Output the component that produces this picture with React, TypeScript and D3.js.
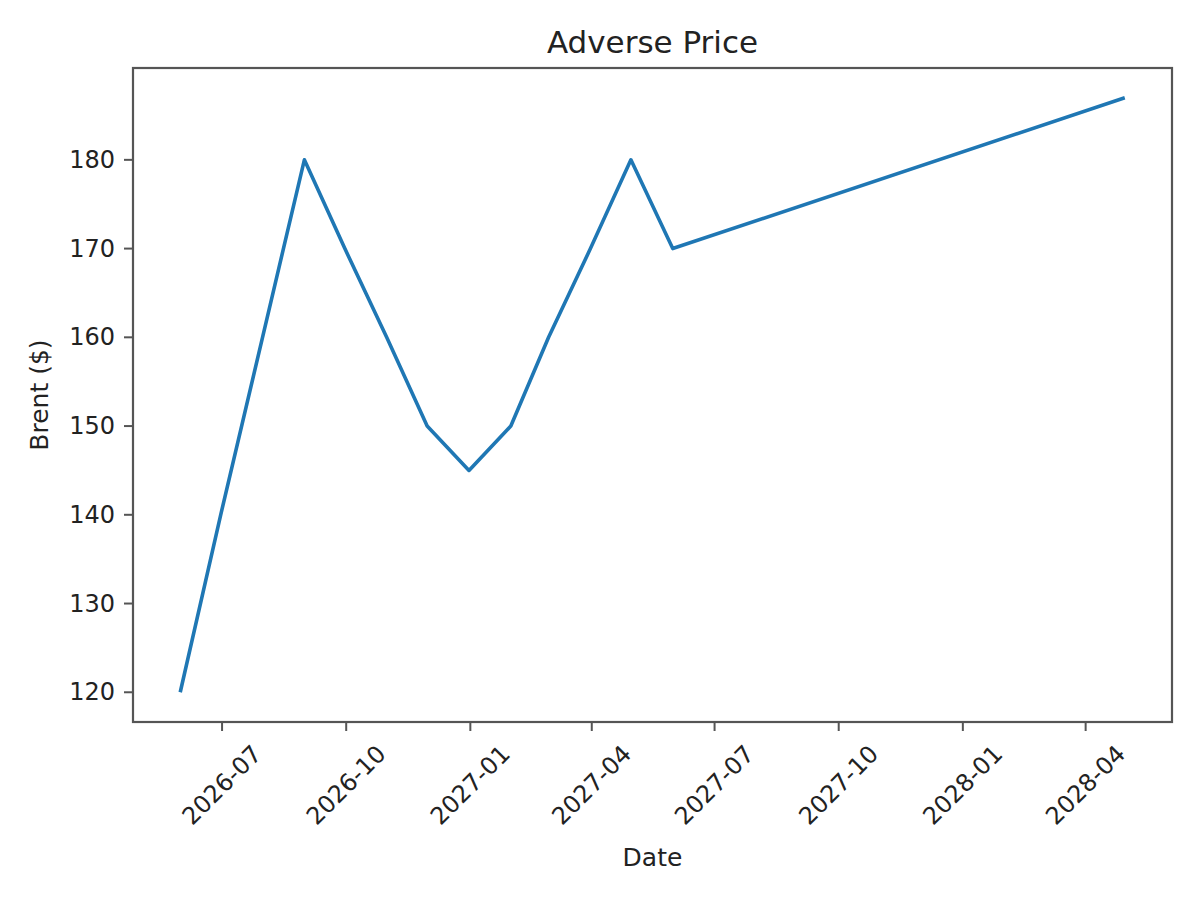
import * as React from 'react';
import { scaleLinear, scaleUtc, line, utcParse, utcFormat, utcMonth, utcDay } from 'd3';

// month-end observations
const dates = [
    '2026-05-31', '2026-06-30', '2026-07-31', '2026-08-31', '2026-09-30',
    '2026-10-31', '2026-11-30', '2026-12-31', '2027-01-31', '2027-02-28',
    '2027-03-31', '2027-04-30', '2027-05-31', '2028-04-30'
];
const brent = [120, 140, 160, 180, 170, 160, 150, 145, 150, 160, 170, 180, 170, 187];
const yTicks = [120, 130, 140, 150, 160, 170, 180];

const parse = utcParse('%Y-%m-%d');
const fmt = utcFormat('%Y-%m');
const points = dates.map((d, i) => ({ date: parse(d)!, value: brent[i] }));

const W = 1200;
const H = 900;
const box = { left: 133, right: 1172, top: 68, bottom: 722 };
const font = 'DejaVu Sans, sans-serif';

// matplotlib-style 5% padding around the data range
const t0 = points[0].date;
const t1 = points[points.length - 1].date;
const padT = (t1.getTime() - t0.getTime()) * 0.05;
const vMin = Math.min(...brent);
const vMax = Math.max(...brent);
const padV = (vMax - vMin) * 0.05;

const xScale = scaleUtc()
    .domain([new Date(t0.getTime() - padT), new Date(t1.getTime() + padT)])
    .range([box.left, box.right]);

const yScale = scaleLinear()
    .domain([vMin - padV, vMax + padV])
    .range([box.bottom, box.top]);

const xTicks = utcMonth.every(3)!.range(utcDay.offset(xScale.domain()[0], 0), xScale.domain()[1]);

const path = line<{ date: Date; value: number }>()
    .x(d => xScale(d.date))
    .y(d => yScale(d.value))(points)!;

const tickLen = 9;
const pad = 9;
const tickFont = 24;
// centre of the rotated label's bounding box below the axis
const labelW = 100;
const labelH = 28;
const rotBox = (labelW + labelH) * Math.SQRT1_2;

export default function App() {
    return (
        <svg width={W} height={H} style={{ position: 'absolute', left: 0, top: 0, background: '#fff' }}
            fontFamily={font}>
            <rect x={0} y={0} width={W} height={H} fill="#fff" />
            <text x={(box.left + box.right) / 2} y={53} textAnchor="middle" fontSize={31} fill="#222">
                Adverse Price
            </text>

            <path d={path} fill="none" stroke="#1f77b4" strokeWidth={3.6} strokeLinejoin="round" />

            <rect x={box.left} y={box.top} width={box.right - box.left} height={box.bottom - box.top}
                fill="none" stroke="#555" strokeWidth={2.2} />

            {yTicks.map(t => (
                <g key={t}>
                    <line x1={box.left - tickLen} x2={box.left} y1={yScale(t)} y2={yScale(t)}
                        stroke="#555" strokeWidth={2} />
                    <text x={box.left - tickLen - pad} y={yScale(t)} textAnchor="end" dominantBaseline="central"
                        fontSize={tickFont} fill="#222">{t}</text>
                </g>
            ))}

            {xTicks.map(t => {
                const x = xScale(t);
                const cy = box.bottom + tickLen + pad + rotBox / 2;
                return (
                    <g key={t.getTime()}>
                        <line x1={x} x2={x} y1={box.bottom} y2={box.bottom + tickLen} stroke="#555" strokeWidth={2} />
                        <text x={x} y={cy} textAnchor="middle" dominantBaseline="central" fontSize={tickFont}
                            fill="#222" transform={`rotate(-45, ${x}, ${cy})`}>{fmt(t)}</text>
                    </g>
                );
            })}

            <text x={(box.left + box.right) / 2} y={866} textAnchor="middle" fontSize={25} fill="#222">Date</text>
            <text transform={`translate(48, ${(box.top + box.bottom) / 2}) rotate(-90)`} textAnchor="middle"
                fontSize={25} fill="#222">Brent ($)</text>
        </svg>
    );
}
